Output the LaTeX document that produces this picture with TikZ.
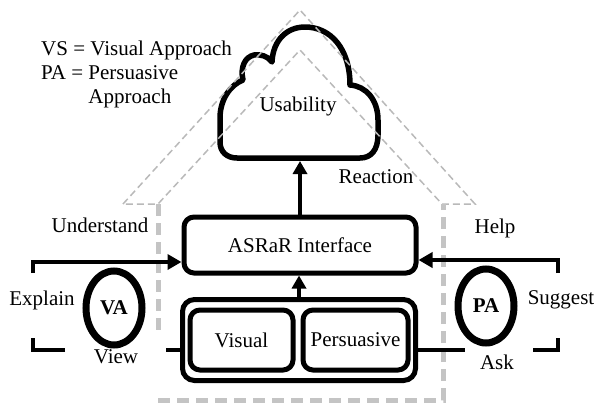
\documentclass[tikz,border=0pt]{standalone}
\usepackage{fontspec}
\setmainfont{Liberation Serif}
\usetikzlibrary{arrows.meta,positioning,shapes.geometric,fit}
\definecolor{roofgray}{RGB}{185,185,185}
\definecolor{wallgray}{RGB}{196,196,196}

\begin{document}
\begin{tikzpicture}[x=1pt,y=-1pt,font=\fontsize{21}{24}\selectfont,
      box/.style={rectangle, rounded corners=10pt, draw, line width=5pt, align=center},
      ell/.style={ellipse, draw, line width=7pt, minimum width=56pt, minimum height=74pt, inner sep=0pt},
      lbl/.style={inner sep=0pt},
      conn/.style={line width=4pt},
      arr/.style={line width=3.5pt, -{Triangle[length=13pt,width=14pt]}},
      roof/.style={roofgray, line width=1.5pt, dash pattern=on 7pt off 4pt},
      wall/.style={wallgray, line width=5pt, dash pattern=on 12pt off 7pt}]
    \useasboundingbox (0,0) rectangle (595,407);
    % cloud
    \draw[line width=5.5pt, line join=round] (237,158) -- (360,158)
      .. controls (371,158) and (378,150) .. (378,135) -- (378,120)
      .. controls (378,100) and (366,86) .. (350,85)
      .. controls (350,48) and (330,27) .. (305,27)
      .. controls (287,27) and (273,40) .. (272,62)
      .. controls (268,56) and (260,54) .. (254,55)
      .. controls (245,57) and (240,67) .. (243,80)
      .. controls (230,85) and (220,100) .. (220,118) -- (220,142)
      .. controls (220,152) and (227,158) .. (237,158) -- cycle;
    \node[lbl] (use) at (298,106) {Usability};
    \coordinate (cloudbase) at (300,161);
    % house outline
    \draw[roof] (123,204) -- (300,10) -- (475,204) -- (442,204) -- (300,50) -- (158,204) -- cycle;
    \draw[wall] (158,204) -- (158,332);
    \draw[wall] (158,400) -- (443,400) -- (443,204);
    % interface and approaches
    \node[box, minimum width=232pt, minimum height=56pt] (ui) at (300,245) {ASRaR Interface};
    \node[box, minimum width=103pt, minimum height=60pt] (vis) at (241.5,340) {Visual};
    \node[box, minimum width=105pt, minimum height=60pt, right=5pt of vis] (per) {Persuasive};
    \node[box, rounded corners=12pt, fit=(vis)(per), inner xsep=5pt, inner ysep=8pt] (grp) {};
    \draw[arr] (grp.north) -- (grp.north |- ui.south);
    \draw[arr] (ui.north) -- (cloudbase);
    \node[ell] (va) at (114,308) {\raisebox{-5pt}{\textbf{VA}}};
    \node[ell] (pa) at (486,306) {\raisebox{-7pt}{\textbf{PA}}};
    % loops
    \coordinate (lt) at (33,262);
    \coordinate (lb) at (33,350);
    \coordinate (rt) at (558,260);
    \coordinate (rb) at (558,350);
    \draw[conn] (grp.west |- lb) -- ++(-14,0);
    \draw[conn] ([xshift=32pt]lb) -- (lb) -- ++(0,-12);
    \draw[conn, -{Triangle[length=14pt,width=15pt]}] ([yshift=-11pt]lt) -- (lt) -- (lt -| ui.west);
    \draw[conn] (grp.east |- rb) -- ++(47,0);
    \draw[conn] ([xshift=-25pt]rb) -- (rb) -- ++(0,-12);
    \draw[conn, -{Triangle[length=14pt,width=15pt]}] ([yshift=-13pt]rt) -- (rt) -- (rt -| ui.east);
    % labels
    \node[lbl, anchor=base west, align=left] (legend) at (41,103) {VS = Visual Approach\\PA = Persuasive\\\phantom{PA = }Approach};
    \node[lbl] (reaction) at (376,177) {Reaction};
    \node[lbl] (understand) at (100,225) {Understand};
    \node[lbl] (help) at (495,228) {Help};
    \node[lbl] (explain) at (42,300) {Explain};
    \node[lbl] (suggest) at (561,300) {Suggest};
    \node[lbl] (view) at (116,357) {View};
    \node[lbl] (ask) at (497,362) {Ask};
  \end{tikzpicture}
\end{document}
